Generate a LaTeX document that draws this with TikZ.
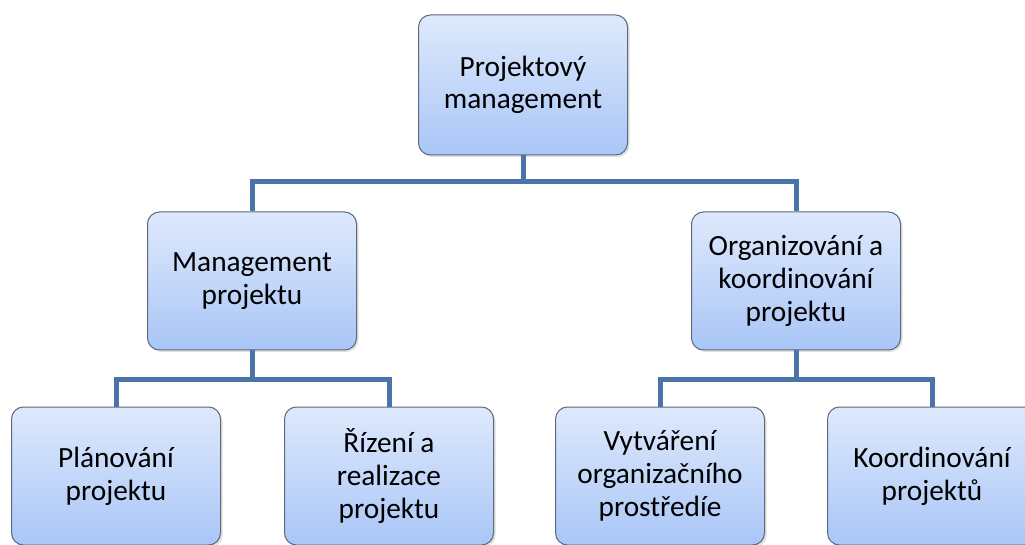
\documentclass[tikz,border=0pt]{standalone}
\usepackage{fontspec}
\setmainfont{Carlito}
\usetikzlibrary{shadows}
\definecolor{boxtop}{HTML}{DEE9FC}
\definecolor{boxbot}{HTML}{A9C6F7}
\definecolor{boxline}{HTML}{5E6A7B}
\definecolor{connblue}{HTML}{4A74AA}
\begin{document}
\begin{tikzpicture}[x=0.75pt, y=-0.75pt,
	orgbox/.style={draw=boxline, line width=0.75pt, rounded corners=9pt,
		top color=boxtop, bottom color=boxbot, align=center, inner sep=0pt,
		minimum width=156.75pt, minimum height=103.5pt,
		font=\fontsize{22}{24.5}\selectfont,
		drop shadow={opacity=0.25, shadow xshift=1.5pt, shadow yshift=-1.5pt}},
	conn/.style={draw=connblue, line width=3.75pt}]
			%%%%% START %%%%%
			\clip (0, 0) rectangle (1025, 545);
			\useasboundingbox (0, 0) rectangle (1025, 545);
			
			\node[orgbox, minimum height=105pt] (top) at (523, 85) {Projektový\\management};
			
			\node[orgbox] (mgmt) at (252, 281) {Management\\projektu};
			\node[orgbox] (org) at (796, 281) {Organizování a\\koordinování\\projektu};
			
			\node[orgbox] (plan) at (116, 476) {Plánování\\projektu};
			\node[orgbox] (rizeni) at (389, 476) {Řízení a\\realizace\\projektu};
			\node[orgbox] (vytv) at (660, 476) {Vytváření\\organizačního\\prostředíe};
			\node[orgbox] (koord) at (932, 476) {Koordinování\\projektů};
			
			\coordinate (bustop) at (0, 182);
			\coordinate (busbot) at (0, 380);
			
			\draw[conn] (top.south) -- (top.south |- bustop) -| (mgmt.north);
			\draw[conn] (top.south |- bustop) -| (org.north);
			
			\draw[conn] (mgmt.south) -- (mgmt.south |- busbot) -| (plan.north);
			\draw[conn] (mgmt.south |- busbot) -| (rizeni.north);
			
			\draw[conn] (org.south) -- (org.south |- busbot) -| (vytv.north);
			\draw[conn] (org.south |- busbot) -| (koord.north);
			%%%%% END %%%%%
\end{tikzpicture}
\end{document}
